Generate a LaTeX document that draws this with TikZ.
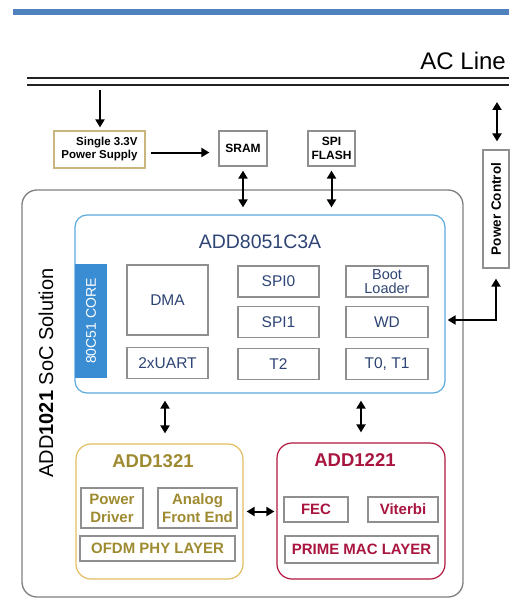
\documentclass[tikz,border=0pt]{standalone}
\usepackage{fontspec}
\setmainfont{Liberation Sans}
\usepackage{xcolor}
\usepackage{tikz}
\usetikzlibrary{positioning,arrows.meta}

\definecolor{barblue}{HTML}{4F81BD}
\definecolor{linecol}{HTML}{222222}
\definecolor{boxgray}{HTML}{8F8F8F}
\definecolor{outergray}{HTML}{7F7F7F}
\definecolor{supplyedge}{HTML}{C9B57E}
\definecolor{navy}{HTML}{2D4474}
\definecolor{mcublue}{HTML}{5AA9DD}
\definecolor{coreblue}{HTML}{3A8DD3}
\definecolor{goldedge}{HTML}{E2BD5E}
\definecolor{goldtext}{HTML}{9E8A30}
\definecolor{crimsonedge}{HTML}{B0163F}
\definecolor{crimsontext}{HTML}{A8153F}

\newcommand{\fsz}[2]{\fontsize{#1}{#2}\selectfont}

\begin{document}
\begin{tikzpicture}[x=1pt, y=-1pt,
    block/.style={draw=boxgray, line width=1.2pt, inner sep=0pt, align=center},
    mcubox/.style={block, text=navy, font=\fsz{15.5}{17}, minimum width=81pt, minimum height=31pt},
    phybox/.style={block, text=goldtext, font=\bfseries\fsz{15}{18}},
    macbox/.style={block, text=crimsontext, font=\bfseries\fsz{15}{18}},
    topbox/.style={block, font=\bfseries\fsz{12}{13.5}},
    arr/.style={-{Triangle[length=8pt,width=9pt]}, line width=2pt},
    darr/.style={{Triangle[length=8pt,width=9pt]}-{Triangle[length=8pt,width=9pt]}, line width=2pt}]

    \useasboundingbox (0,0) rectangle (519,599);

    % header bar and mains line
    \fill[barblue] (13,9) rectangle (509,15);
    \node (acline) [anchor=base east, inner sep=0pt, font=\fsz{24}{24}] at (506,70) {AC Line};
    \draw[line width=1.4pt, linecol] (27,78) -- (509,78) (27,85) -- (509,85);
    \coordinate (psin) at (100,90);
    \coordinate (pcin) at (497,102);

    % parts outside the chip
    \node (supply) [topbox, draw=supplyedge, align=right, font=\bfseries\fsz{11.5}{13}, minimum width=91pt, minimum height=37pt] at (99.5,149.5) {Single 3.3V\\Power Supply};
    \node (sram) [topbox, minimum width=48pt, minimum height=35pt] at (243,148.5) {SRAM};
    \node (flash) [topbox, minimum width=47pt, minimum height=35pt] at (331.5,148.5) {SPI\\FLASH};
    \node (pctl) [topbox, font=\bfseries\fsz{13.5}{14}, minimum width=26pt, minimum height=118pt] at (496,209) {\rotatebox{90}{Power Control}};

    % the SoC
    \node (soc) [draw=outergray, line width=1.3pt, rounded corners=15pt, minimum width=441pt, minimum height=407pt] at (242.5,393.5) {};
    \node (soclabel) [rotate=90, font=\fsz{20}{20}] at (46,373) {ADD\textbf{1021} SoC Solution};

    % ADD8051C3A
    \node (mcu) [draw=mcublue, line width=1.2pt, rounded corners=12pt, inner sep=0pt, minimum width=370pt, minimum height=178pt] at (260,304) {};
    \node (mcutitle) [text=navy, font=\fsz{19.5}{20}] at (260,242) {ADD8051C3A};
    \node (core) [fill=coreblue, text=white, rotate=90, inner sep=0pt, font=\fsz{14}{14}, minimum width=114pt, minimum height=32pt] at (91,321) {80C51 CORE};
    \node (dma) [mcubox, minimum height=70pt] at (167.5,300) {DMA};
    \node (uart) [mcubox, below=11pt of dma] {2xUART};
    \node (spi0) [mcubox] at (278.5,281.5) {SPI0};
    \node (spi1) [mcubox, below=8pt of spi0] {SPI1};
    \node (t2) [mcubox, below=10pt of spi1] {T2};
    \node (boot) [mcubox, minimum width=82pt, font=\fsz{14.5}{14.5}] at (387,281.5) {Boot\\Loader};
    \node (wd) [mcubox, minimum width=82pt, below=8pt of boot] {WD};
    \node (timers) [mcubox, minimum width=82pt, below=10pt of wd] {T0, T1};

    % ADD1321
    \node (phy) [draw=goldedge, line width=1.2pt, rounded corners=15pt, minimum width=167pt, minimum height=135pt] at (159.5,511.5) {};
    \node (phytitle) [text=goldtext, font=\bfseries\fsz{18.5}{19}] at (153,461) {ADD1321};
    \node (pdrv) [phybox, minimum width=62pt, minimum height=40pt] at (112,508) {Power\\Driver};
    \node (afe) [phybox, minimum width=79pt, minimum height=40pt] at (197.5,508) {Analog\\Front End};
    \node (ofdm) [phybox, minimum width=155pt, minimum height=25pt] at (157.5,548.5) {OFDM PHY LAYER};

    % ADD1221
    \node (mac) [draw=crimsonedge, line width=1.2pt, rounded corners=15pt, minimum width=168pt, minimum height=136pt] at (361,511) {};
    \node (mactitle) [text=crimsontext, font=\bfseries\fsz{18.5}{19}] at (355,460) {ADD1221};
    \node (fec) [macbox, minimum width=64pt, minimum height=25pt] at (316,509.5) {FEC};
    \node (viterbi) [macbox, minimum width=70pt, minimum height=25pt] at (403,509.5) {Viterbi};
    \node (prime) [macbox, minimum width=153pt, minimum height=27pt] at (361.5,549.5) {PRIME MAC LAYER};

    % connections
    \draw[arr, shorten >=3pt] (psin) -- (psin |- supply.north);
    \draw[arr, shorten <=5pt, shorten >=9pt] ([yshift=-3pt]supply.east) -- ([yshift=-3pt]supply.east -| sram.west);
    \draw[darr, shorten <=4pt, shorten >=7pt] (sram.south) -- (sram.south |- mcu.north);
    \draw[darr, shorten <=4pt, shorten >=7pt] (flash.south) -- (flash.south |- mcu.north);
    \draw[darr, shorten >=8pt] (pcin) -- (pcin |- pctl.north);
    \draw[darr, shorten <=10pt, shorten >=2pt] (pctl.south) |- ([yshift=-16pt]mcu.east);
    \draw[darr, shorten <=7pt, shorten >=10pt] ([xshift=5.5pt]phy.north |- mcu.south) -- ([xshift=5.5pt]phy.north);
    \draw[darr, shorten <=7pt, shorten >=10pt] (mac.north |- mcu.south) -- (mac.north);
    \draw[darr, shorten <=3pt, shorten >=2pt] (phy.east) -- (phy.east -| mac.west);
\end{tikzpicture}
\end{document}
